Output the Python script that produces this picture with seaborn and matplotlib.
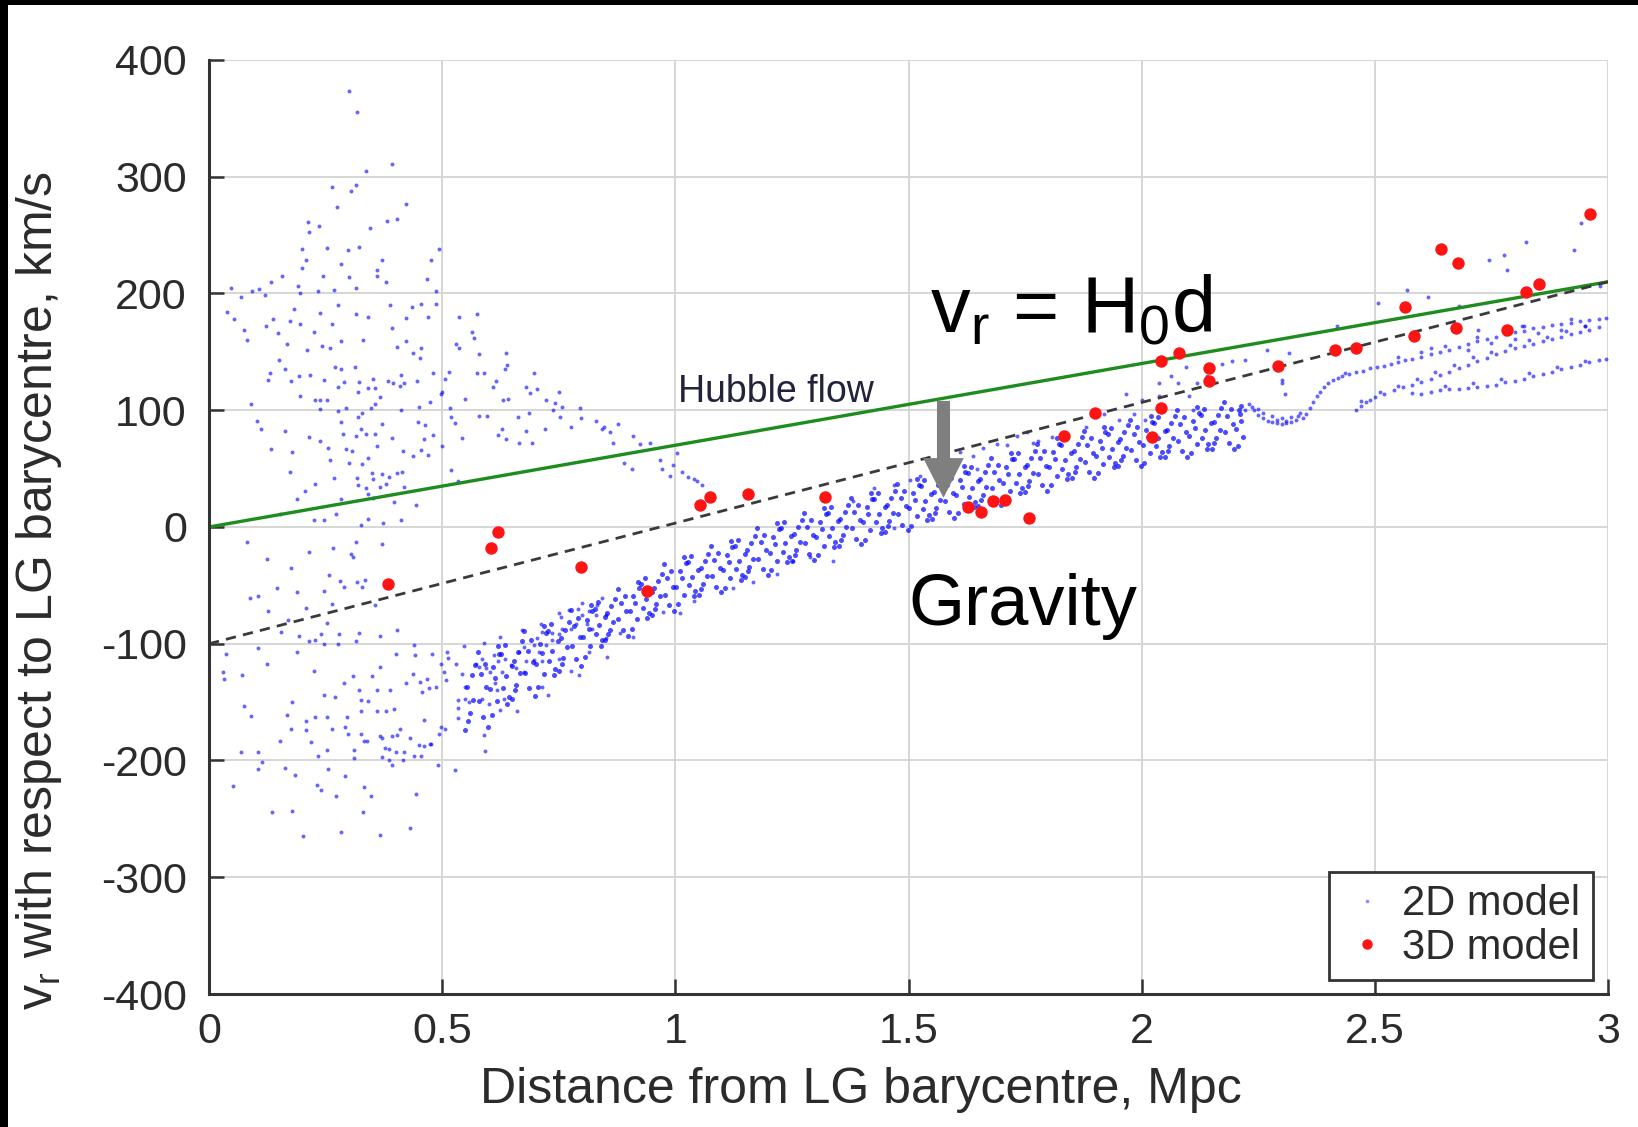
import matplotlib
matplotlib.use("Agg")
import matplotlib.pyplot as plt
import seaborn as sns
import pandas as pd
from matplotlib.patches import FancyArrow, Rectangle
from matplotlib.lines import Line2D

# ---------------- data ----------------
# Hubble flow line and the shifted (gravity) line
hubble_d = [0.0, 3.0]
hubble_v = [0.0, 210.0]
shift_d = [0.0, 3.0]
shift_v = [-100.0, 210.0]

# 3D model (red points)
d_3d = [0.384, 0.604, 0.620, 0.797, 0.939, 1.053, 1.074, 1.155, 1.321, 1.627, 1.655, 1.681,
        1.707, 1.758, 1.834, 1.900, 2.022, 2.042, 2.042, 2.080, 2.144, 2.144, 2.292, 2.415,
        2.460, 2.564, 2.583, 2.641, 2.679, 2.675, 2.783, 2.824, 2.852, 2.961]
v_3d = [-49, -18, -4, -34, -55, 19, 26, 28, 26, 17, 13, 22,
        23, 8, 78, 98, 77, 142, 102, 149, 136, 125, 138, 152,
        153, 188, 164, 238, 226, 170, 169, 201, 208, 268]

# 2D model: diffuse cloud close to the barycentre (upper part)
cloud_upper = [
    (0.300, 373), (0.318, 355), (0.392, 311), (0.336, 305), (0.264, 291), (0.315, 293), (0.304, 288),
    (0.422, 277), (0.275, 274), (0.212, 261), (0.214, 253), (0.236, 258), (0.381, 262), (0.404, 264),
    (0.345, 256), (0.322, 240), (0.254, 239), (0.297, 237), (0.200, 238), (0.207, 229), (0.493, 238),
    (0.370, 229), (0.284, 225), (0.477, 229), (0.199, 222), (0.361, 220), (0.157, 215), (0.245, 215),
    (0.300, 214), (0.360, 215), (0.379, 210), (0.468, 212), (0.132, 210), (0.047, 205), (0.093, 202),
    (0.107, 204), (0.190, 206), (0.234, 202), (0.269, 203), (0.315, 205), (0.486, 202), (0.069, 197),
    (0.120, 199), (0.195, 200), (0.039, 184), (0.054, 178), (0.075, 169), (0.082, 160), (0.122, 172),
    (0.138, 178), (0.147, 166), (0.182, 187), (0.174, 176), (0.195, 174), (0.226, 167), (0.238, 183),
    (0.277, 190), (0.264, 174), (0.316, 182), (0.341, 180), (0.388, 190), (0.392, 170), (0.422, 179),
    (0.436, 188), (0.455, 191), (0.470, 180), (0.486, 191), (0.168, 157), (0.211, 152), (0.243, 155),
    (0.259, 153), (0.282, 159), (0.331, 160), (0.404, 154), (0.422, 159), (0.438, 149), (0.452, 145),
    (0.455, 153), (0.151, 143), (0.163, 135), (0.130, 132), (0.126, 126), (0.176, 125), (0.192, 129),
    (0.216, 130), (0.247, 126), (0.270, 137), (0.284, 135), (0.312, 137), (0.290, 124), (0.277, 120),
    (0.322, 124), (0.320, 116), (0.352, 127), (0.355, 119), (0.341, 119), (0.384, 125), (0.395, 123),
    (0.411, 130), (0.410, 121), (0.418, 123), (0.447, 125), (0.481, 132), (0.499, 116), (0.090, 105),
    (0.195, 112), (0.227, 109), (0.239, 109), (0.252, 109), (0.237, 101), (0.277, 99), (0.294, 102),
    (0.327, 98), (0.347, 102), (0.357, 105), (0.367, 111), (0.411, 100), (0.450, 103), (0.474, 107),
    (0.497, 114), (0.448, 90), (0.463, 87), (0.455, 66), (0.470, 62), (0.438, 61), (0.415, 65),
    (0.393, 76), (0.372, 88), (0.356, 80), (0.336, 80), (0.316, 78), (0.325, 84), (0.320, 94),
    (0.287, 80), (0.284, 90), (0.256, 68), (0.238, 74), (0.214, 77), (0.163, 82), (0.112, 84),
    (0.102, 91), (0.133, 67), (0.177, 64), (0.259, 57), (0.293, 67), (0.307, 65), (0.300, 55),
    (0.329, 54), (0.342, 59), (0.361, 69), (0.350, 46), (0.370, 45), (0.386, 43), (0.404, 46),
    (0.352, 41), (0.317, 42), (0.320, 36), (0.366, 34), (0.336, 33), (0.342, 28), (0.379, 37),
    (0.418, 34), (0.413, 47), (0.267, 42), (0.227, 37), (0.173, 47), (0.205, 31), (0.188, 24),
    (0.284, 24), (0.352, 25), (0.397, 21), (0.443, 19), (0.272, 11), (0.152, 11), (0.225, 6),
    (0.247, 6), (0.374, 3), (0.411, 6), (0.325, 2), (0.342, 7), (0.480, 79), (0.460, 75),
    (0.500, 69),
]

# 2D model: stream falling from the cloud towards the main band
stream_2d = [
    (0.536, 180), (0.575, 182), (0.563, 167), (0.568, 162), (0.529, 157), (0.536, 153), (0.580, 148),
    (0.636, 149), (0.505, 127), (0.515, 133), (0.575, 132), (0.590, 132), (0.608, 120), (0.615, 125),
    (0.635, 135), (0.638, 139), (0.697, 132), (0.679, 120), (0.688, 115), (0.704, 118), (0.751, 116),
    (0.516, 102), (0.550, 110), (0.631, 109), (0.641, 110), (0.722, 109), (0.742, 106), (0.756, 103),
    (0.738, 100), (0.686, 98), (0.663, 94), (0.795, 102), (0.753, 94), (0.797, 93), (0.829, 91),
    (0.843, 84), (0.777, 86), (0.720, 84), (0.679, 82), (0.693, 72), (0.665, 72), (0.636, 75),
    (0.629, 84), (0.620, 79), (0.597, 95), (0.579, 95), (0.543, 76), (0.518, 94), (0.528, 89),
    (0.518, 49), (0.533, 39), (0.846, 86), (0.860, 81), (0.878, 88), (0.889, 55), (0.910, 78),
    (0.924, 71), (0.946, 72), (0.967, 57), (0.989, 44), (0.996, 53), (1.003, 63), (1.014, 47),
    (1.028, 43), (1.046, 39), (1.057, 36), (0.906, 50), (0.971, 50), (0.867, 72), (1.039, 41),
]

# 2D model: diffuse cloud below zero velocity
cloud_lower = [
    (0.082, -13), (0.125, -27), (0.214, -21), (0.266, -18), (0.304, -23), (0.309, -26), (0.315, -13),
    (0.372, -15), (0.175, -35), (0.257, -41), (0.281, -46), (0.289, -51), (0.317, -47), (0.334, -45),
    (0.327, -51), (0.145, -52), (0.188, -56), (0.247, -55), (0.087, -61), (0.106, -59), (0.207, -69),
    (0.127, -72), (0.264, -66), (0.357, -67), (0.170, -80), (0.252, -82), (0.154, -90), (0.193, -93),
    (0.241, -92), (0.279, -92), (0.322, -91), (0.367, -93), (0.404, -88), (0.214, -98), (0.227, -97),
    (0.247, -100), (0.277, -100), (0.316, -98), (0.104, -104), (0.037, -109), (0.125, -117),
    (0.188, -107), (0.031, -124), (0.032, -130), (0.071, -127), (0.225, -123), (0.290, -134),
    (0.309, -128), (0.322, -140), (0.350, -128), (0.366, -120), (0.360, -140), (0.388, -140),
    (0.402, -109), (0.422, -134), (0.437, -126), (0.441, -110), (0.247, -144), (0.270, -146),
    (0.177, -150), (0.076, -153), (0.089, -162), (0.168, -161), (0.207, -166), (0.227, -163),
    (0.252, -163), (0.295, -163), (0.325, -148), (0.342, -149), (0.325, -158), (0.360, -158),
    (0.397, -156), (0.380, -158), (0.175, -173), (0.207, -174), (0.264, -173), (0.292, -171),
    (0.299, -177), (0.325, -177), (0.332, -183), (0.338, -183), (0.366, -179), (0.372, -181),
    (0.392, -179), (0.404, -178), (0.409, -173), (0.460, -165), (0.432, -181), (0.377, -189),
    (0.386, -190), (0.400, -193), (0.418, -193), (0.450, -187), (0.474, -186), (0.440, -196),
    (0.455, -196), (0.152, -183), (0.219, -184), (0.252, -191), (0.234, -196), (0.311, -191),
    (0.372, -197), (0.386, -200), (0.417, -200), (0.069, -193), (0.105, -193), (0.113, -201),
    (0.106, -207), (0.163, -206), (0.184, -212), (0.256, -207), (0.292, -213), (0.310, -198),
    (0.393, -204), (0.492, -204), (0.527, -208), (0.052, -222), (0.232, -221), (0.241, -225),
    (0.272, -230), (0.332, -223), (0.348, -230), (0.443, -229), (0.136, -244), (0.177, -243),
    (0.331, -244), (0.282, -261), (0.202, -265), (0.367, -264), (0.431, -258),
]

# 2D model: loose points on the edges of the main band
band_edge = [
    (0.440, -101), (0.479, -109), (0.498, -117), (0.511, -107), (0.513, -112), (0.529, -117),
    (0.547, -102), (0.543, -126), (0.549, -137), (0.509, -131), (0.504, -124), (0.467, -130),
    (0.452, -133), (0.472, -138), (0.486, -137), (0.457, -141), (0.533, -148), (0.549, -147),
    (0.558, -150), (0.533, -155), (0.586, -147), (0.600, -152), (0.533, -164), (0.498, -171),
    (0.506, -173), (0.493, -177), (0.475, -186), (0.461, -188), (0.590, -178), (0.592, -192),
    (0.625, -157), (0.661, -158), (0.613, -134), (0.618, -140), (0.633, -147), (0.602, -124),
    (0.593, -121), (0.579, -120), (0.572, -117), (0.586, -113), (0.611, -110), (0.629, -124),
    (0.620, -115), (0.634, -113), (0.647, -118), (0.658, -121), (0.675, -124), (0.679, -115),
    (0.697, -114), (0.708, -107), (0.715, -115), (0.665, -107), (0.672, -88), (0.625, -94),
    (0.590, -99), (0.675, -103), (0.697, -101), (0.704, -95), (0.722, -101), (0.736, -97),
    (0.736, -91), (0.750, -113), (0.750, -92), (0.758, -87), (0.776, -87), (0.786, -83),
    (0.792, -70), (0.800, -75), (0.811, -83), (0.822, -87), (0.815, -72), (0.833, -67),
    (0.843, -61), (0.851, -75), (0.851, -95), (0.815, -107), (0.776, -123), (0.793, -127),
    (0.715, -137), (0.726, -144), (0.711, -83), (0.754, -77), (0.715, -90), (0.772, -71),
    (0.750, -74), (0.800, -65), (0.829, -75), (1.124, -52), (1.167, -47), (1.217, -40),
    (1.253, -29), (1.289, -26), (1.339, -29), (1.468, -1), (1.010, -74), (0.974, -73),
    (0.910, -94), (0.881, -91), (0.853, -111), (1.039, -63), (1.553, 47), (1.589, 57),
    (1.610, 64), (1.639, 61), (1.660, 68), (1.689, 71), (1.711, 70), (1.732, 78), (1.753, 81),
    (1.525, 44), (1.503, 40), (1.468, 36), (1.768, 72), (1.575, 44), (1.646, 50), (1.425, 33),
    (1.382, 22), (2.038, 123), (2.062, 129), (2.094, 137), (2.173, 140), (2.193, 142),
    (2.141, 129), (2.102, 112), (2.078, 123), (2.000, 109), (1.967, 114), (1.919, 97),
    (1.880, 86), (1.840, 80), (1.951, 92), (2.007, 92), (2.038, 112), (2.110, 100), (2.221, 143),
    (2.268, 152), (2.300, 126), (2.221, 100), (2.237, 103), (2.308, 114), (2.118, 123),
    (1.983, 97), (1.808, 77), (1.777, 74),
]

# 2D model: dense main band (one row per 0.025 Mpc slice: distances, velocities)
band_rows = [
    ([0.550, 0.559, 0.567, 0.554, 0.563, 0.571, 0.556], [-174, -159, -148, -137, -127, -118, -166]),
    ([0.587, 0.578, 0.595, 0.583, 0.591, 0.576, 0.598], [-163, -149, -137, -126, -117, -107, -171]),
    ([0.606, 0.618, 0.602, 0.614, 0.610, 0.622, 0.619], [-161, -149, -139, -129, -120, -109, -102]),
    ([0.640, 0.630, 0.636, 0.649, 0.627, 0.643, 0.634], [-152, -138, -128, -119, -109, -146, -101]),
    ([0.650, 0.659, 0.667, 0.654, 0.663, 0.671, 0.656], [-147, -135, -125, -115, -107, -98, -140]),
    ([0.687, 0.678, 0.695, 0.683, 0.691, 0.676, 0.698], [-138, -125, -116, -106, -97, -89, -145]),
    ([0.706, 0.718, 0.702, 0.714, 0.710, 0.722, 0.719], [-137, -126, -117, -108, -100, -91, -85]),
    ([0.740, 0.730, 0.736, 0.749, 0.727, 0.743, 0.734], [-127, -115, -106, -98, -89, -122, -83]),
    ([0.750, 0.759, 0.767, 0.754, 0.763, 0.771, 0.756], [-123, -112, -103, -95, -88, -81, -117]),
    ([0.787, 0.778, 0.795, 0.783, 0.791, 0.776, 0.798], [-113, -102, -94, -85, -78, -71, -119]),
    ([0.806, 0.818, 0.802, 0.814, 0.810, 0.822, 0.819], [-111, -102, -94, -87, -80, -72, -67]),
    ([0.840, 0.830, 0.836, 0.849, 0.827, 0.843, 0.834], [-102, -92, -84, -77, -70, -97, -64]),
    ([0.850, 0.859, 0.867, 0.854, 0.863, 0.871, 0.856], [-97, -88, -81, -74, -68, -62, -92]),
    ([0.887, 0.878, 0.895, 0.883, 0.891, 0.876, 0.898], [-88, -79, -72, -65, -59, -53, -93]),
    ([0.906, 0.918, 0.902, 0.914, 0.910, 0.922, 0.919], [-87, -79, -72, -65, -59, -52, -47]),
    ([0.940, 0.930, 0.936, 0.949, 0.927, 0.943, 0.934], [-78, -69, -62, -56, -49, -74, -44]),
    ([0.950, 0.959, 0.967, 0.954, 0.963, 0.971, 0.956], [-75, -66, -59, -52, -46, -40, -70]),
    ([0.987, 0.978, 0.995, 0.983, 0.991, 0.976, 0.998], [-67, -58, -51, -44, -38, -32, -72]),
    ([1.006, 1.018, 1.002, 1.014, 1.010, 1.022, 1.019], [-66, -58, -51, -44, -38, -31, -26]),
    ([1.040, 1.030, 1.036, 1.049, 1.027, 1.043, 1.034], [-59, -50, -43, -37, -30, -55, -25]),
    ([1.050, 1.059, 1.067, 1.054, 1.063, 1.071, 1.056], [-58, -49, -42, -35, -29, -23, -53]),
    ([1.087, 1.078, 1.095, 1.083, 1.091, 1.076, 1.098], [-51, -42, -35, -28, -22, -16, -56]),
    ([1.106, 1.118, 1.102, 1.114, 1.110, 1.122, 1.119], [-52, -44, -37, -30, -24, -17, -12]),
    ([1.140, 1.130, 1.136, 1.149, 1.127, 1.143, 1.134], [-45, -36, -29, -23, -16, -41, -11]),
    ([1.150, 1.159, 1.167, 1.154, 1.163, 1.171, 1.156], [-43, -34, -27, -20, -14, -8, -38]),
    ([1.187, 1.178, 1.195, 1.183, 1.191, 1.176, 1.198], [-36, -27, -20, -13, -7, -1, -41]),
    ([1.206, 1.218, 1.202, 1.214, 1.210, 1.222, 1.219], [-37, -29, -22, -15, -9, -2, 3]),
    ([1.240, 1.230, 1.236, 1.249, 1.227, 1.243, 1.234], [-30, -21, -14, -8, -1, -26, 4]),
    ([1.250, 1.259, 1.267, 1.254, 1.263, 1.271, 1.256], [-29, -20, -13, -6, 0, 6, -24]),
    ([1.287, 1.278, 1.295, 1.283, 1.291, 1.276, 1.298], [-23, -14, -7, 0, 6, 12, -28]),
    ([1.306, 1.318, 1.302, 1.314, 1.310, 1.322, 1.319], [-24, -16, -9, -2, 4, 11, 16]),
    ([1.340, 1.330, 1.336, 1.349, 1.327, 1.343, 1.334], [-17, -8, -1, 5, 12, -13, 17]),
    ([1.350, 1.359, 1.367, 1.354, 1.363, 1.371, 1.356], [-16, -7, 0, 7, 13, 19, -11]),
    ([1.387, 1.378, 1.395, 1.383, 1.391, 1.376, 1.398], [-10, -1, 6, 13, 19, 25, -15]),
    ([1.406, 1.418, 1.402, 1.414, 1.410, 1.422, 1.419], [-11, -3, 4, 11, 17, 24, 29]),
    ([1.440, 1.430, 1.436, 1.449, 1.427, 1.443, 1.434], [-5, 4, 11, 17, 24, -1, 29]),
    ([1.450, 1.459, 1.467, 1.454, 1.463, 1.471, 1.456], [-4, 5, 12, 19, 25, 31, 1]),
    ([1.487, 1.478, 1.495, 1.483, 1.491, 1.476, 1.498], [2, 11, 18, 25, 31, 37, -3]),
    ([1.506, 1.518, 1.502, 1.514, 1.510, 1.522, 1.519], [1, 9, 16, 23, 29, 36, 41]),
    ([1.540, 1.530, 1.536, 1.549, 1.527, 1.543, 1.534], [6, 15, 22, 28, 35, 10, 40]),
    ([1.550, 1.559, 1.567, 1.554, 1.563, 1.571, 1.556], [7, 16, 23, 30, 36, 42, 12]),
    ([1.587, 1.578, 1.595, 1.583, 1.591, 1.576, 1.598], [13, 22, 29, 36, 42, 48, 8]),
    ([1.606, 1.618, 1.602, 1.614, 1.610, 1.622, 1.619], [12, 20, 27, 34, 40, 47, 52]),
    ([1.640, 1.630, 1.636, 1.649, 1.627, 1.643, 1.634], [17, 26, 33, 39, 46, 21, 51]),
    ([1.650, 1.659, 1.667, 1.654, 1.663, 1.671, 1.656], [18, 27, 34, 41, 47, 53, 23]),
    ([1.687, 1.678, 1.695, 1.683, 1.691, 1.676, 1.698], [24, 33, 40, 47, 53, 59, 19]),
    ([1.706, 1.718, 1.702, 1.714, 1.710, 1.722, 1.719], [23, 31, 38, 45, 51, 58, 63]),
    ([1.740, 1.730, 1.736, 1.749, 1.727, 1.743, 1.734], [29, 38, 45, 51, 58, 33, 63]),
    ([1.750, 1.759, 1.767, 1.754, 1.763, 1.771, 1.756], [30, 39, 46, 53, 59, 65, 35]),
    ([1.787, 1.778, 1.795, 1.783, 1.791, 1.776, 1.798], [36, 45, 52, 59, 65, 71, 31]),
    ([1.806, 1.818, 1.802, 1.814, 1.810, 1.822, 1.819], [36, 44, 51, 58, 64, 71, 76]),
    ([1.840, 1.830, 1.836, 1.849, 1.827, 1.843, 1.834], [41, 50, 57, 63, 70, 45, 75]),
    ([1.850, 1.859, 1.867, 1.854, 1.863, 1.871, 1.856], [42, 51, 58, 65, 71, 77, 47]),
    ([1.887, 1.878, 1.895, 1.883, 1.891, 1.876, 1.898], [47, 56, 63, 70, 76, 82, 42]),
    ([1.906, 1.918, 1.902, 1.914, 1.910, 1.922, 1.919], [46, 54, 61, 68, 74, 81, 86]),
    ([1.940, 1.930, 1.936, 1.949, 1.927, 1.943, 1.934], [51, 60, 67, 73, 80, 55, 85]),
    ([1.950, 1.959, 1.967, 1.954, 1.963, 1.971, 1.956], [52, 61, 68, 75, 81, 87, 57]),
    ([1.987, 1.978, 1.995, 1.983, 1.991, 1.976, 1.998], [57, 66, 73, 80, 86, 92, 52]),
    ([2.006, 2.018, 2.002, 2.014, 2.010, 2.022, 2.019], [55, 63, 70, 77, 83, 90, 95]),
    ([2.040, 2.030, 2.036, 2.049, 2.027, 2.043, 2.034], [60, 69, 76, 82, 89, 64, 94]),
    ([2.050, 2.059, 2.067, 2.054, 2.063, 2.071, 2.056], [60, 69, 76, 83, 89, 95, 65]),
    ([2.087, 2.078, 2.095, 2.083, 2.091, 2.076, 2.098], [65, 74, 81, 88, 94, 100, 60]),
    ([2.106, 2.118, 2.102, 2.114, 2.110, 2.122, 2.119], [63, 71, 78, 85, 91, 98, 103]),
    ([2.140, 2.130, 2.136, 2.149, 2.127, 2.143, 2.134], [67, 76, 83, 89, 96, 71, 101]),
    ([2.150, 2.159, 2.167, 2.154, 2.163, 2.171, 2.156], [67, 76, 83, 90, 96, 102, 72]),
    ([2.187, 2.178, 2.195, 2.183, 2.191, 2.176, 2.198], [72, 81, 88, 95, 101, 107, 67]),
    ([2.206, 2.218, 2.202, 2.214, 2.210, 2.212, 2.208], [69, 77, 84, 91, 97, 104, 100]),
]

# 2D model: strands beyond 2.2 Mpc
strands_2d = [
    (2.230, 105), (2.240, 100), (2.250, 96), (2.260, 93), (2.270, 91), (2.280, 90), (2.290, 89),
    (2.300, 88), (2.310, 89), (2.320, 90), (2.330, 92), (2.335, 95), (2.260, 98), (2.280, 95),
    (2.300, 93), (2.320, 94), (2.340, 98), (2.250, 101), (2.290, 92), (2.310, 91),
    (2.345, 93), (2.352, 97), (2.360, 102), (2.368, 107), (2.375, 112), (2.383, 116), (2.392, 120),
    (2.400, 123), (2.410, 126), (2.420, 128), (2.430, 129), (2.445, 131), (2.460, 133), (2.475, 134),
    (2.490, 136), (2.505, 137), (2.520, 138), (2.535, 140), (2.550, 141), (2.565, 143), (2.580, 144),
    (2.600, 146), (2.620, 148), (2.640, 150), (2.660, 152), (2.680, 154), (2.700, 157), (2.720, 159),
    (2.740, 161), (2.760, 163), (2.780, 165), (2.800, 167), (2.820, 168), (2.840, 170), (2.860, 171),
    (2.880, 173), (2.900, 174), (2.920, 175), (2.940, 176), (2.960, 177), (2.980, 178), (2.995, 179),
    (2.550, 146), (2.600, 150), (2.650, 155), (2.700, 152), (2.750, 158), (2.800, 161), (2.850, 166),
    (2.900, 169), (2.950, 172), (2.620, 153), (2.720, 163), (2.820, 172), (2.920, 178),
    (2.460, 100), (2.470, 104), (2.480, 107), (2.490, 109), (2.500, 111), (2.520, 114), (2.540, 117),
    (2.560, 120), (2.580, 122), (2.600, 124), (2.620, 127), (2.640, 130), (2.660, 133), (2.680, 136),
    (2.700, 139), (2.720, 142), (2.740, 145), (2.760, 148), (2.780, 151), (2.800, 153), (2.820, 155),
    (2.840, 157), (2.860, 159), (2.880, 161), (2.900, 163), (2.920, 165), (2.940, 167), (2.960, 169),
    (2.980, 171), (2.470, 108), (2.510, 116), (2.550, 121), (2.590, 127), (2.630, 133), (2.670, 139),
    (2.710, 146), (2.750, 150), (2.790, 156), (2.830, 160), (2.870, 163), (2.910, 168), (2.950, 172),
    (2.580, 115), (2.600, 114), (2.620, 116), (2.640, 117), (2.660, 118), (2.680, 118), (2.700, 119),
    (2.720, 120), (2.740, 121), (2.760, 122), (2.780, 124), (2.800, 125), (2.820, 127), (2.840, 129),
    (2.860, 131), (2.880, 133), (2.900, 135), (2.920, 137), (2.940, 139), (2.960, 141), (2.980, 143),
    (2.995, 144), (2.650, 121), (2.710, 123), (2.770, 127), (2.830, 132), (2.890, 137), (2.950, 142),
    (2.824, 244), (2.776, 233), (2.744, 229), (2.784, 220), (2.927, 237), (2.943, 260), (2.570, 203),
    (2.614, 197), (2.681, 189), (2.721, 169), (2.816, 172), (2.982, 206), (2.506, 192), (2.419, 172),
    (2.316, 149), (2.435, 132), (2.300, 123),
]

x_ticks = [0, 0.5, 1, 1.5, 2, 2.5, 3]
x_tick_labels = ["0", "0.5", "1", "1.5", "2", "2.5", "3"]
y_ticks = [-400, -300, -200, -100, 0, 100, 200, 300, 400]
y_tick_labels = ["-400", "-300", "-200", "-100", "0", "100", "200", "300", "400"]

# ---------------- assemble ----------------
loose = list(cloud_upper) + list(stream_2d) + list(cloud_lower) + list(band_edge) + list(strands_2d)
band_pts = []
for xs, ys in band_rows:
    band_pts += list(zip(xs, ys))
df_loose = pd.DataFrame(loose, columns=["d", "v"])
df_band = pd.DataFrame(band_pts, columns=["d", "v"])
df3d = pd.DataFrame({"d": d_3d, "v": v_3d})

sns.set_theme(style="white")
plt.rcParams["font.family"] = ["Liberation Sans", "DejaVu Sans"]
plt.rcParams["mathtext.fontset"] = "custom"
plt.rcParams["mathtext.rm"] = "Liberation Sans"
plt.rcParams["mathtext.it"] = "Liberation Sans"

fig = plt.figure(figsize=(16.38, 11.27), dpi=100)
fig.patch.set_facecolor("white")
ax = fig.add_axes([0.1276, 0.118, 0.8541, 0.8288])

TXT = "#2b2b2b"

sns.scatterplot(data=df_loose, x="d", y="v", s=8, color="#0000ff", alpha=0.6,
                linewidth=0, ax=ax, zorder=2, legend=False)
sns.scatterplot(data=df_band, x="d", y="v", s=13, color="#0000ff", alpha=0.7,
                linewidth=0, ax=ax, zorder=2, legend=False)
sns.lineplot(x=hubble_d, y=hubble_v, color="#1e8c1e", lw=2.4, ax=ax, zorder=4)
ax.plot(shift_d, shift_v, color="#3a3a3a", lw=2.0, dashes=(3.7, 2.6), zorder=4)
sns.scatterplot(data=df3d, x="d", y="v", s=80, color="#ff1414", linewidth=0,
                ax=ax, zorder=5, legend=False)

# gravity arrow
ax.add_patch(FancyArrow(1.575, 108, 0, -83, width=0.028, head_width=0.087,
                        head_length=34, length_includes_head=True,
                        color="#7f7f7f", lw=0, zorder=6))

ax.text(1.546, 167, r"v$_\mathregular{r}$ = H$_\mathregular{0}$d", fontsize=57,
        color="black", ha="left", va="baseline", zorder=7)
ax.text(1.50, -84, "Gravity", fontsize=52, color="black", ha="left", va="baseline", zorder=7)
ax.text(1.006, 107, "Hubble flow", fontsize=27, color="#22223a", ha="left", va="baseline", zorder=7)

ax.set_xlim(0, 3)
ax.set_ylim(-400, 400)
ax.set_xticks(x_ticks)
ax.set_xticklabels(x_tick_labels)
ax.set_yticks(y_ticks)
ax.set_yticklabels(y_tick_labels)
ax.grid(True, color="#d6d6d6", lw=1.4)
ax.set_axisbelow(True)
for s in ["top", "right"]:
    ax.spines[s].set_visible(False)
for s in ["left", "bottom"]:
    ax.spines[s].set_color("#333333")
    ax.spines[s].set_linewidth(2.2)
    ax.spines[s].set_zorder(8)
ax.tick_params(axis="both", direction="in", length=11, width=1.8, color="#333333",
               labelcolor=TXT, labelsize=31, bottom=True, left=True, top=False, right=False)
ax.tick_params(axis="x", pad=13)
ax.tick_params(axis="y", pad=16)

ax.set_xlabel("Distance from LG barycentre, Mpc", fontsize=36, color=TXT)
ax.set_ylabel(r"v$_\mathregular{r}$ with respect to LG barycentre, km/s", fontsize=36, color=TXT)
ax.xaxis.set_label_coords(0.466, -0.078)
ax.yaxis.set_label_coords(-0.104, 0.4325)

handles = [Line2D([], [], ls="", marker="o", ms=2.6, mfc="#8c8cff", mec="none"),
           Line2D([], [], ls="", marker="o", ms=7.5, mfc="#ff1414", mec="none")]
leg = ax.legend(handles, ["2D model", "3D model"], loc="lower right",
                bbox_to_anchor=(0.989, 0.015), borderaxespad=0, frameon=True,
                fancybox=False, framealpha=1, edgecolor="#333333", facecolor="white",
                fontsize=30, handlelength=1.2, handletextpad=0.25, borderpad=0.3,
                labelspacing=0.08)
leg.get_frame().set_linewidth(2.0)
leg.set_zorder(9)
for t in leg.get_texts():
    t.set_color(TXT)

# screenshot edge (black strips on the left and top)
fig.patches.append(Rectangle((0, 0), 8 / 1638, 1, transform=fig.transFigure,
                             facecolor="black", edgecolor="none", zorder=10))
fig.patches.append(Rectangle((0, 1 - 5 / 1127), 1, 5 / 1127, transform=fig.transFigure,
                             facecolor="black", edgecolor="none", zorder=10))

fig.savefig("out.png", dpi=100, facecolor="white")
